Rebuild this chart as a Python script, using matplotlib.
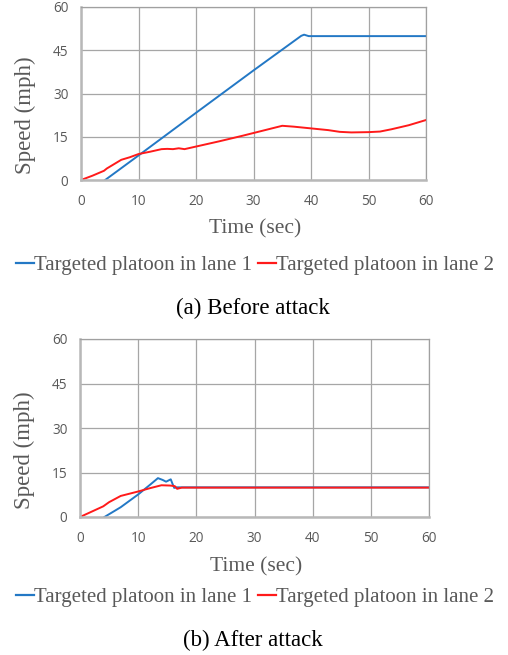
import matplotlib
matplotlib.use("Agg")
import matplotlib.pyplot as plt
from matplotlib.lines import Line2D

# ---- data ----
xticks = [0, 10, 20, 30, 40, 50, 60]
yticks = [0, 15, 30, 45, 60]

before_lane1_t = [4.2, 10, 20, 30, 38.3, 38.8, 39.6, 60]
before_lane1_v = [0, 8.5, 23.3, 38.0, 50.0, 50.4, 49.9, 49.9]

before_lane2_t = [0, 2, 4, 4.5, 5.5, 7, 8.5, 10, 12, 14, 15, 16, 17, 18, 20, 24,
                  28, 32, 35, 37, 40, 43, 45, 47, 50, 52, 54, 57, 60]
before_lane2_v = [0, 1.5, 3.2, 4.0, 5.2, 7.0, 7.9, 9.0, 9.8, 10.7, 10.8, 10.7, 11.0,
                  10.7, 11.6, 13.4, 15.3, 17.3, 18.8, 18.5, 17.9, 17.3, 16.7, 16.5,
                  16.6, 16.8, 17.6, 19.0, 20.8]

after_lane1_t = [4.2, 7, 10, 12, 13.4, 14.2, 14.8, 15.6, 15.9, 16.2, 16.6, 60]
after_lane1_v = [0, 3.3, 7.6, 10.8, 13.1, 12.5, 11.9, 12.7, 11.2, 9.8, 10.0, 10.0]

after_lane2_t = [0, 2, 4, 5, 7, 10, 12, 14, 15.5, 16.3, 16.7, 17.5, 60]
after_lane2_v = [0, 1.8, 3.6, 5.0, 7.1, 8.6, 9.7, 10.7, 10.6, 10.4, 9.5, 9.9, 9.9]

labels = ["Targeted platoon in lane 1", "Targeted platoon in lane 2"]
captions = ["(a) Before attack", "(b) After attack"]

BLUE = "#2378C5"
RED = "#FF1A1A"
GRAY_TXT = "#595959"
SERIF = ["Liberation Serif", "DejaVu Serif"]

W, H = 508, 655
fig = plt.figure(figsize=(W / 100, H / 100), dpi=100)


def px_axes(l, t, r, b):
    return fig.add_axes([l / W, 1 - b / H, (r - l) / W, (b - t) / H])


def style(ax):
    ax.set_xlim(0, 60)
    ax.set_ylim(0, 60)
    ax.set_xticks(xticks)
    ax.set_yticks(yticks)
    ax.grid(True, color="#A6A6A6", lw=0.9)
    ax.set_axisbelow(True)
    for s in ax.spines.values():
        s.set_color("#A0A0A0")
        s.set_linewidth(0.9)
    ax.spines["left"].set_linewidth(1.8)
    ax.spines["bottom"].set_linewidth(1.8)
    ax.spines["left"].set_color("#B8B8B8")
    ax.spines["bottom"].set_color("#B8B8B8")
    ax.tick_params(length=0, labelsize=9.8, labelcolor=GRAY_TXT)
    ax.tick_params(axis="y", pad=9)
    ax.tick_params(axis="x", pad=10)
    for lab in ax.get_xticklabels() + ax.get_yticklabels():
        lab.set_family("Open Sans")
    ax.set_xlabel("Time (sec)", family=SERIF, fontsize=15.5, color=GRAY_TXT)
    ax.set_ylabel("Speed (mph)", family=SERIF, fontsize=16.5, color=GRAY_TXT)
    ax.xaxis.set_label_coords(0.505, -0.28)
    ax.yaxis.set_label_coords(-0.16, 0.375)
    ax.yaxis.label.set_va("center")
    ax.xaxis.label.set_va("center")


ax1 = px_axes(81, 7, 426, 180)
ax1.plot(before_lane1_t, before_lane1_v, color=BLUE, lw=1.4)
ax1.plot(before_lane2_t, before_lane2_v, color=RED, lw=1.4)
style(ax1)

ax2 = px_axes(80, 339, 429, 517)
ax2.plot(after_lane1_t, after_lane1_v, color=BLUE, lw=1.4)
ax2.plot(after_lane2_t, after_lane2_v, color=RED, lw=1.4)
style(ax2)

handles = [Line2D([], [], color=BLUE, lw=1.6), Line2D([], [], color=RED, lw=1.6)]
for yc in (265, 597):
    leg = fig.legend(handles, labels, loc="center", bbox_to_anchor=(255 / W, 1 - yc / H),
                     ncol=2, frameon=False, handlelength=0.85, handletextpad=0.0,
                     columnspacing=0.3, prop={"family": SERIF, "size": 15})
    for t in leg.get_texts():
        t.set_color(GRAY_TXT)

fig.text(253 / W, 1 - 308 / H, captions[0], ha="center", va="center",
         family=SERIF, fontsize=16.5, color="black")
fig.text(253 / W, 1 - 640 / H, captions[1], ha="center", va="center",
         family=SERIF, fontsize=16.5, color="black")

fig.savefig("out.png", dpi=100)
